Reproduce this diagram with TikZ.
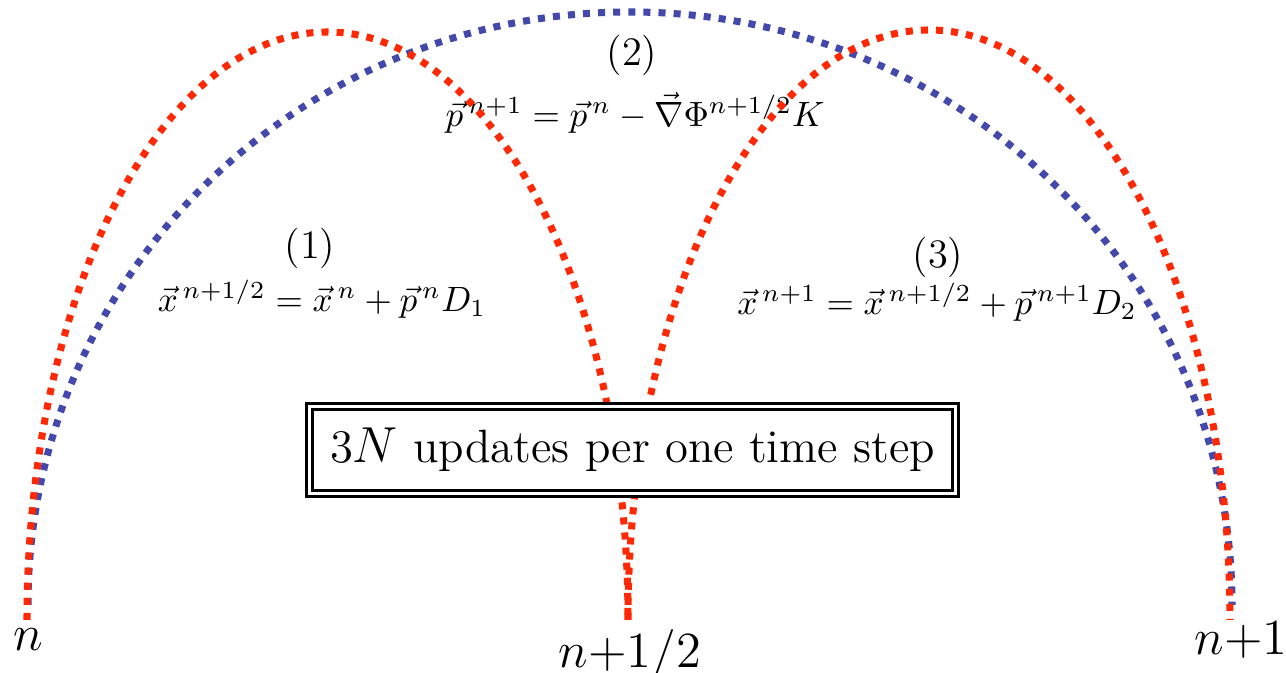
\documentclass[tikz,border=0pt]{standalone}
\definecolor{kickred}{RGB}{255,40,5}
\definecolor{driftblue}{RGB}{68,72,170}
\usepackage{amsmath,amssymb}
\usetikzlibrary{positioning}

\tikzset{
  dotarc/.style={line width=2pt,dash pattern=on 2pt off 2.3pt},
  eqn/.style={font=\fontsize{10}{12}\selectfont,inner sep=0pt},
  stepno/.style={font=\fontsize{11.5}{13}\selectfont,inner sep=0pt},
  timelbl/.style={font=\fontsize{14}{16}\selectfont,inner sep=0pt},
  updbox/.style={draw,fill=white,line width=0.8pt,double,double distance=0.8pt,
    minimum width=6.46cm,minimum height=0.87cm,inner sep=0pt,
    font=\fontsize{13.3}{15}\selectfont}
}

\begin{document}
\begin{tikzpicture}
  \useasboundingbox (0,0) rectangle (12.86,6.73);
  % time levels
  \coordinate (tn) at (0.27,0.53);
  \coordinate (th) at (6.28,0.53);
  \coordinate (tf) at (12.30,0.53);
  \coordinate (bn) at (0.28,0.68);
  \node[timelbl] (ln) at (0.28,0.33) {$n$};
  \node[timelbl] (lh) at (6.30,0.18) {$n{+}1/2$};
  \node[timelbl] (lf) at (12.41,0.33) {$n{+}1$};
  % the three sub-steps
  \node[stepno] (s1) at (3.10,4.25) {(1)};
  \node[eqn] (e1) at (3.22,3.74) {$\vec{x}^{\,n+1/2}=\vec{x}^{\,n}+\vec{p}^{\,n}D_1$};
  \node[stepno] (s2) at (6.32,6.18) {(2)};
  \node[eqn] (e2) at (6.35,5.60) {$\vec{p}^{\,n+1}=\vec{p}^{\,n}-\vec{\nabla}\Phi^{n+1/2}K$};
  \node[stepno] (s3) at (9.38,4.16) {(3)};
  \node[eqn] (e3) at (9.37,3.71) {$\vec{x}^{\,n+1}=\vec{x}^{\,n+1/2}+\vec{p}^{\,n+1}D_2$};
  % arcs
  \draw[dotarc,driftblue] (bn) arc[start angle=180,end angle=0,x radius=6.02,y radius=5.93];
  \draw[dotarc,kickred] (tn) arc[start angle=180,end angle=0,x radius=3.005,y radius=5.88];
  \draw[dotarc,kickred] (th) arc[start angle=180,end angle=0,x radius=3.01,y radius=5.90];
  \node[updbox] (box) at (6.325,2.23) {3$N$ updates per one time step};
\end{tikzpicture}
\end{document}
